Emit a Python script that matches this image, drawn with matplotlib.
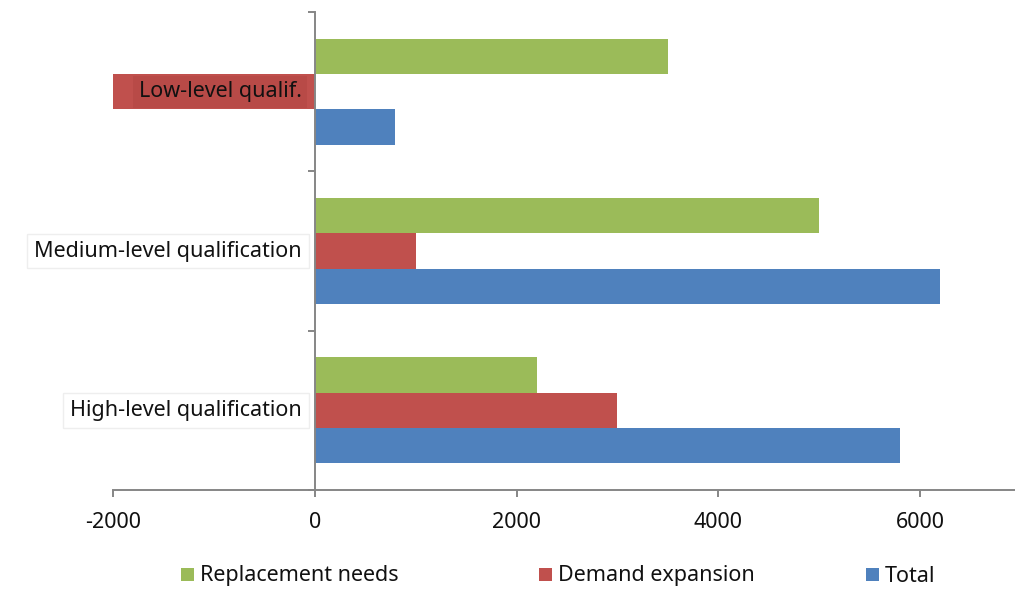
import numpy as np
import matplotlib
matplotlib.use('Agg')
import matplotlib.pyplot as plt
from matplotlib.patches import Rectangle

plt.rcParams['font.family'] = ['Noto Sans', 'DejaVu Sans']

# Categorias (de arriba a abajo) y series
categorias = ['Low-level qualif.', 'Medium-level qualification', 'High-level qualification']
series = ['Replacement needs', 'Demand expansion', 'Total']
colores = ['#9BBB59', '#C0504D', '#4F81BD']

replacement = [3500, 5000, 2200]
demand = [-2000, 1000, 3000]
total = [800, 6200, 5800]
valores = [replacement, demand, total]

xticks = [-2000, 0, 2000, 4000, 6000]

W, H = 1015, 590
fig = plt.figure(figsize=(W / 100, H / 100), dpi=100)
ax = fig.add_axes([113 / W, (H - 490) / H, (1021 - 113) / W, (490 - 12) / H])

# posiciones: primera categoria arriba
centros = np.arange(len(categorias))[::-1] + 0.5
alto = 0.222
desplaz = [alto, 0, -alto]

for vals, col, d in zip(valores, colores, desplaz):
    ax.barh(centros + d, vals, height=alto, color=col, edgecolor='none')

ax.set_xlim(-2000, 7000)
ax.set_ylim(0, len(categorias))

gris = '#868686'
for lado in ['top', 'right']:
    ax.spines[lado].set_visible(False)
ax.spines['left'].set_position(('data', 0))
ax.spines['left'].set_color(gris)
ax.spines['bottom'].set_color(gris)
ax.spines['left'].set_linewidth(1.4)
ax.spines['bottom'].set_linewidth(1.4)

ax.set_xticks(xticks)
ax.set_xticklabels([str(t) for t in xticks])
ax.tick_params(axis='x', direction='out', length=5, width=1.4, color=gris,
               labelsize=15.5, pad=11, labelcolor='#111111')
ax.set_yticks(np.arange(len(categorias) + 1))
ax.set_yticklabels([])
ax.tick_params(axis='y', direction='out', length=5, width=1.4, color=gris)

# etiquetas de categorias en cajas
cajas = [dict(facecolor='#b84a47', edgecolor='none', pad=4),
         dict(facecolor='white', edgecolor='#eeeeee', pad=5),
         dict(facecolor='white', edgecolor='#eeeeee', pad=5)]
for cat, c, caja in zip(categorias, centros, cajas):
    ax.annotate(cat, xy=(0, c), xytext=(-13, 0), textcoords='offset pixels',
                ha='right', va='center', fontsize=15.5, color='#111111', bbox=caja)

# leyenda manual en la parte inferior
pos_leyenda = [181, 539, 866]
for nombre, col, px in zip(series, colores, pos_leyenda):
    fig.patches.append(Rectangle((px / W, (H - 581) / H), 13 / W, 13 / H,
                                 transform=fig.transFigure, facecolor=col,
                                 edgecolor='none'))
    fig.text((px + 19) / W, (H - 576) / H, nombre, ha='left', va='center',
             fontsize=15.5, color='#111111')

fig.savefig('out.png', dpi=100)
